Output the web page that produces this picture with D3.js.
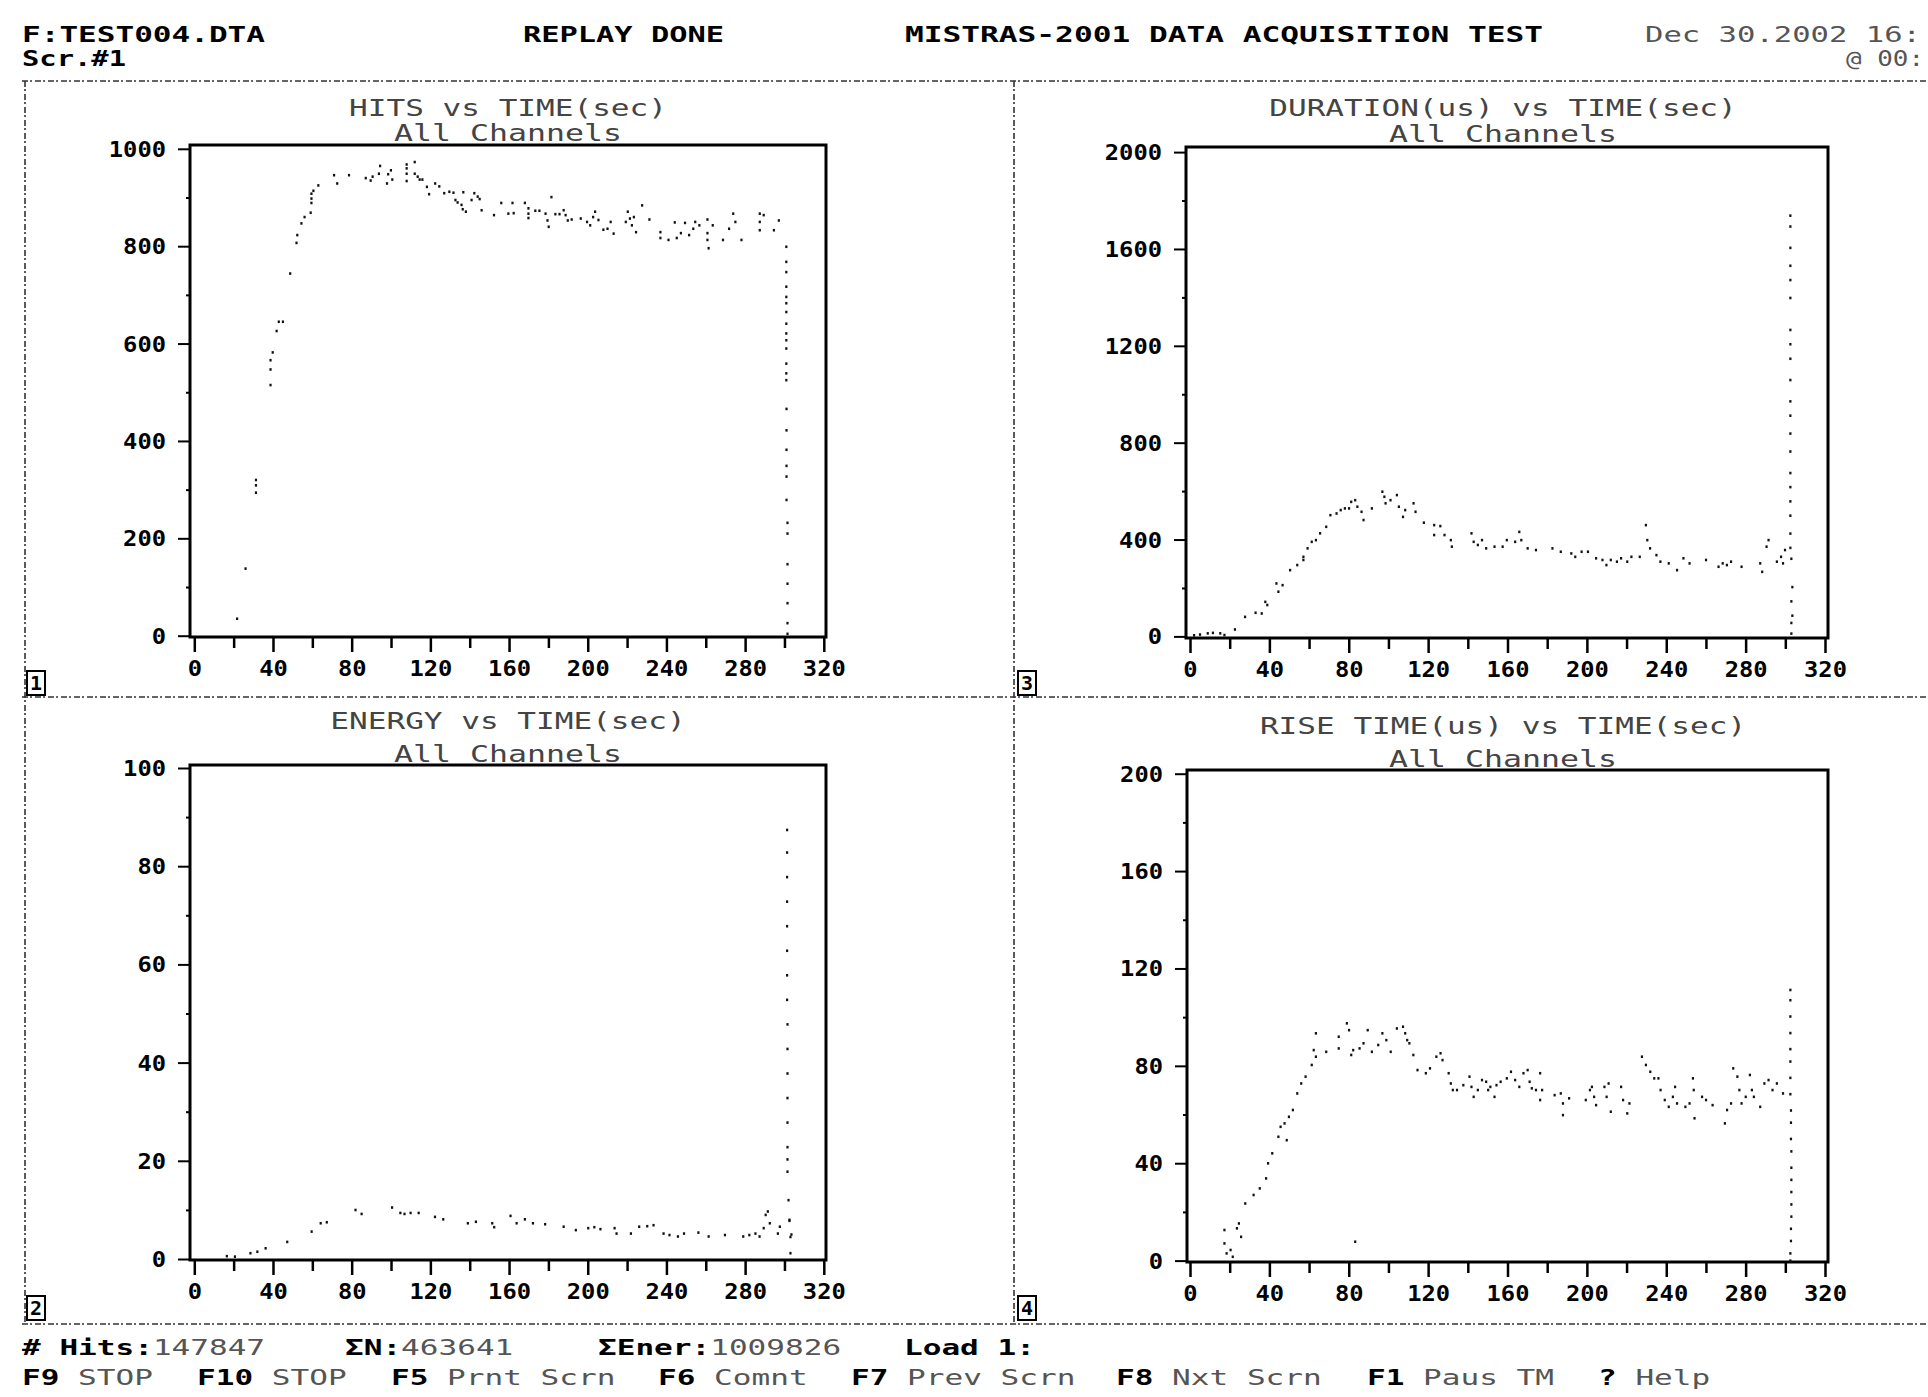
<!DOCTYPE html>
<html><head><meta charset="utf-8">
<script src="https://cdn.jsdelivr.net/npm/d3@7"></script>
<style>html,body{margin:0;padding:0;background:#fff;overflow:hidden}</style>
</head><body><svg id="c" width="1928" height="1397"></svg>
<script>
// ---------------- DATA ----------------
const xTickVals = [0,20,40,60,80,100,120,140,160,180,200,220,240,260,280,300,320];
const xLabelVals = [0,40,80,120,160,200,240,280,320];
const hitsYTicks = [0,100,200,300,400,500,600,700,800,900,1000];
const hitsYLabels = [0,200,400,600,800,1000];
const durYTicks = [0,200,400,600,800,1000,1200,1400,1600,1800,2000];
const durYLabels = [0,400,800,1200,1600,2000];
const enerYTicks = [0,10,20,30,40,50,60,70,80,90,100];
const enerYLabels = [0,20,40,60,80,100];
const riseYTicks = [0,20,40,60,80,100,120,140,160,180,200];
const riseYLabels = [0,40,80,120,160,200];

// HITS vs TIME(sec) : [time, hits]
const hitsData = [[21.7,35],[26,138],[31.3,320],[31.3,309],[31.3,294],
[38.7,515],[38.7,547],[38.7,566],[39.8,582],[41.8,626],[42.9,645],[45,645],[48.7,744],[51.9,807],[52.3,823],[54.4,847],[56,860],[59.1,869],[59.5,889],[59.5,898],[59.5,908],[60.5,914],[63,925],[71,946],[72.6,929],[78.6,946],[87.1,940],[89.6,935],[90.6,943],[93.8,949],[94.4,965],[97.9,929],[98.5,948],[99.9,956],[100.6,937],[107.9,968],[107.9,960],[107.9,949],[107.9,934],[112,973],[112,949],[113.5,943],[114.5,937],[115.9,937],[118.2,922],[119.3,907],[122.4,929],[124.5,923],[127,909],[129.6,912],[131.7,910],[132.7,895],[133.8,890],[135.8,885],[136.4,876],[138,871],[136.7,911],[140.9,895],[142.3,909],[144,902],[145,897],[146,874],[152.3,864],[156,889],[159.6,867],[161.7,889],[162.3,868],[168,889],[169.8,878],[169.8,867],[169.8,858],[173.3,873],[175.4,873],[178.5,867],[179.5,853],[180.1,840],[181.5,901],[183.5,866],[185.6,866],[187.7,874],[188.7,864],[189.8,853],[191.8,855],[196.4,857],[199.6,850],[201.2,843],[202.7,860],[203.7,871],[205.4,854],[207.9,834],[210,836],[211.6,850],[213.1,826],[219.3,850],[220.3,871],[221.4,857],[222.4,843],[223.4,860],[224.5,829],[227.6,884],[231.3,855],[236.9,829],[236.9,817],[241,813],[244.2,849],[245.2,817],[247.3,827],[249.4,848],[251.5,823],[253.6,836],[254.6,850],[256.7,843],[260.8,855],[260.8,827],[260.8,813],[261.4,796],[263.5,843],[268.7,813],[271.8,836],[273.9,867],[275,850],[278.1,813],[287.4,867],[287.4,850],[287.4,833],[289.4,864],[294.6,833],[297.1,853],
[300.9,799],[300.9,768],[300.9,747],[300.9,717],[300.9,696],[300.9,683],[300.9,665],[300.9,641],[300.9,621],[300.9,607],[300.9,590],[300.9,559],[300.9,539],[300.9,525],[301,466],[301,422],[301,382],[301,349],[301,327],[301,279],[301.5,232],[301.5,210],[301.5,147],[301.5,107],[301.5,67],[301.5,26],[301.5,4]];

// DURATION(us) vs TIME(sec)
const durData = [[2,5],[5,8],[8.9,13],[11.5,15],[15.2,13],[17.3,6],[22.6,29],[27.7,81],[33,98],[36.1,95],[37.9,143],[38.9,130],[43.5,219],[44.5,185],[46.6,212],[50.4,274],[54,295],[57.1,316],[57.1,329],[59.2,364],[61.3,391],[63.4,398],[65.5,426],[68.6,453],[70.7,501],[73.8,508],[75.9,522],[78,529],[80.1,529],[81.2,556],[83.2,563],[84.3,536],[86.4,515],[87.4,481],[91.6,529],[96.9,598],[97.9,577],[98.5,550],[101,563],[104.2,584],[105.2,536],[107.3,494],[108.4,522],[112.6,550],[113.6,515],[117.8,470],[123,460],[126.1,456],[123,419],[128.2,419],[131.4,398],[131.9,371],[141.8,426],[142.9,391],[145,378],[147.1,398],[149.2,364],[153.4,371],[157.5,371],[159.6,398],[163.8,391],[165.9,432],[166.9,398],[170.1,364],[174.3,357],[182.6,364],[186.8,350],[192.1,343],[194.1,329],[197.3,350],[200.5,350],[204.6,323],[207.8,316],[209.8,295],[212,316],[215.1,309],[217.2,323],[220.3,309],[222.4,329],[226.6,329],[229.7,460],[230.4,398],[231.8,364],[235,336],[237,309],[241.2,302],[245.4,274],[248.6,323],[251.7,302],[260,316],[266.3,288],[268.4,302],[270.5,295],[272.6,309],[277.9,288],[287.3,302],[288.3,267],[290.5,371],[291.5,398],[295.7,309],[297.8,329],[299.8,357],[298.8,302],
[302.5,1738],[302.5,1693],[302.5,1605],[302.5,1531],[302.5,1472],[302.5,1398],[302.5,1266],[302.5,1207],[302.5,1147],[302.5,1059],[302.5,971],[302.5,912],[302.5,838],[302.5,764],[302.5,675],[302.5,617],[302.5,558],[302.5,499],[302.5,425],[302.5,366],[303,321],[303.5,204],[303,145],[303.5,86],[303,56],[303,12]];

// ENERGY vs TIME(sec)
const enerData = [[16.5,0.6],[20.6,0.5],[28.5,1.2],[32,1.5],[36.2,2.2],[47.2,3.5],[59.6,5.6],[64.2,7.3],[67.3,7.5],[81.9,10],[85,9.2],[100.5,10.5],[104.7,9.4],[106.8,9.2],[109.9,9.4],[114,9.4],[122.3,8.6],[126.5,8.1],[139,7.3],[143.1,7.6],[151.4,7.3],[152.4,6.5],[160.7,8.8],[163.8,7.3],[168,8.1],[172.1,7.3],[178.3,7.1],[187.7,6.6],[193.9,5.9],[200.2,6.3],[203.3,6.5],[206.4,6.1],[213.6,6.3],[214.6,5.2],[221.9,5.2],[226.1,6.6],[230.2,6.7],[233.4,6.9],[238.5,5.2],[241.5,4.9],[245.8,4.6],[248.9,5.2],[256.2,5.4],[261.4,4.6],[269.7,4.9],[279,4.6],[282.1,4.9],[285.2,5.2],[287.3,4.6],[289.4,6.3],[290.4,9],[291.5,9.7],[292.5,7.3],[296.6,5.2],[297.6,6.6],
[301.3,87.4],[301.3,82.8],[301.3,77.8],[301.3,72.8],[301.3,67.8],[301.3,62.8],[301.3,57.8],[301.3,52.8],[301.5,47.8],[301.5,42.8],[301.5,37.8],[301.5,32.8],[301.5,27.8],[301.5,22.8],[301.5,20.3],[301.5,17.8],[302,12],[302.5,7.8],[303,4.5],[303,1.2],[302.5,8],[303.5,5]];

// RISE TIME(us) vs TIME(sec)
const riseData = [[17.3,12.6],[17.3,7.1],[18.4,3],[20.4,4.4],[21.5,1.6],[23.6,13.3],[24.6,15.3],[25.7,9.8],[27.8,23.5],[32,27],[35.1,29.7],[38.3,33.8],[39.3,40],[41.4,44.1],[44.5,50.9],[45.6,55],[47.6,56.4],[48.7,49.5],[49.8,59.1],[51.8,61.9],[54,68.7],[56,72.8],[58.2,75.6],[61.3,80.4],[62.3,86.5],[63.4,93.4],[63.4,83.8],[68.6,85.8],[74.9,92],[74.9,87.2],[79,97.5],[80.1,94.7],[81.2,84.5],[82.2,86.5],[85.4,87.2],[87.4,89.3],[89.5,94.7],[91.6,85.8],[94.8,88.6],[96.9,93.4],[98.9,90.6],[101.1,85.8],[104.2,95.4],[107.3,96.1],[108.4,93.4],[109.4,90.6],[110.5,89.3],[112.5,84.5],[114.6,78.3],[118.8,77],[120.9,79],[124.1,83.8],[126.2,85.2],[127.2,82.4],[130.3,77],[131.4,72.8],[132.4,70.1],[134.5,70.1],[137.7,72.1],[140.8,75.6],[141.8,71.4],[142.9,67.3],[145,70.1],[147.1,74.2],[149.2,73.5],[150.2,70.1],[151.3,71.4],[153.4,67.3],[154.4,72.1],[156.5,73.5],[159.6,74.9],[161.7,77.6],[163.8,74.2],[165.9,71.4],[168,77],[170.1,78.3],[171.1,73.5],[172.2,70.8],[174.3,70.1],[176.4,77],[177.4,70.1],[176.4,66],[183.7,68],[186.8,68.7],[187.9,64.6],[187.9,59.8],[191,66.7],[199.4,66],[201.5,70.1],[202.5,71.4],[203.6,67.3],[204.6,63.9],[208.8,71.4],[209.9,67.3],[210.9,72.8],[212,61.2],[217.2,71.4],[218.2,66],[220.3,60.5],[221.4,64.6],[227.7,83.8],[229.7,80.4],[231.9,77.6],[233.9,74.9],[236,74.9],[237.1,70.1],[239.2,66],[241.2,63.2],[243.3,67.3],[244.4,71.4],[245.4,64.6],[249.6,63.2],[251.7,64.6],[253.4,74.9],[253.8,70.1],[254.2,58.5],[258,67.3],[260,66],[263.3,63.9],[269.5,56.4],[270.6,61.9],[272.6,64.6],[273.7,79],[275.8,75.6],[276.8,70.1],[277.9,64.6],[280,67.3],[282.1,76.3],[283.1,70.1],[284.1,67.3],[287.3,63.2],[289.4,72.8],[291.5,74.2],[293.5,70.1],[295.7,72.8],[298.8,68.7],[83.2,7.8],
[302.5,111.2],[302.5,107],[302.5,100.3],[302.5,93.5],[302.5,86.9],[302.5,81.8],[302.5,75.1],[302.5,68.4],[302.8,61.7],[302.8,56.7],[302.8,50],[303,44.9],[303,38.2],[303,33.2],[303,28.2],[303,23.1],[303,18.1],[302.8,13.1],[302.8,8.1],[302.5,3],[302.5,0]];

// ---------------- DRAWING ----------------
const svg = d3.select('#c');
svg.append('rect').attr('width',1928).attr('height',1397).attr('fill','#fff');
const MONO = "'DejaVu Sans Mono', 'Liberation Mono', monospace";

function txt(g, x, y, s, o = {}) {
  const t = g.append('text').attr('x', x).attr('y', y).text(s)
    .attr('font-family', MONO)
    .attr('font-size', o.size || 22)
    .attr('font-weight', o.weight || 'bold')
    .attr('fill', o.fill || '#000')
    .attr('dominant-baseline', 'central')
    .attr('text-anchor', o.anchor || 'start');
  if (o.width) t.attr('textLength', o.width).attr('lengthAdjust', 'spacingAndGlyphs');
  return t;
}
const CW = 18.7;

// header
const hdr = svg.append('g');
txt(hdr, 22, 34, 'F:TEST004.DTA', {width: 243});
txt(hdr, 523, 34, 'REPLAY DONE', {width: 201});
txt(hdr, 905, 34, 'MISTRAS-2001 DATA ACQUISITION TEST', {width: 638});
txt(hdr, 1645, 34, 'Dec 30.2002 16:', {width: 276, weight: 'normal', fill: '#555'});
txt(hdr, 22, 58, 'Scr.#1', {width: 104});
txt(hdr, 1924, 58, '@ 00:', {width: 78, weight: 'normal', fill: '#555', anchor: 'end'});

// separators (dotted screen borders)
const sep = svg.append('g').attr('stroke', '#333').attr('stroke-width', 1.6)
  .attr('stroke-dasharray', '6 2 2 3').attr('fill', 'none');
[[22,81,1928,81],[25,81,25,1324],[1014,81,1014,1324],[22,697,1928,697],[22,1324,1928,1324]]
  .forEach(l => sep.append('line').attr('x1',l[0]).attr('y1',l[1]).attr('x2',l[2]).attr('y2',l[3]));

const panels = [
 {data: hitsData, yTicks: hitsYTicks, yLabels: hitsYLabels, ymax: 1000, x0: 194.3, x1: 823.8, y0: 635.7, y1: 148.8,
  fl: 190, fr: 826, ft: 145, fb: 637, title: 'HITS vs TIME(sec)', cx: 508, tOff: 37, sOff: 12, num: '1', box: [27, 671]},
 {data: durData, yTicks: durYTicks, yLabels: durYLabels, ymax: 2000, x0: 1190, x1: 1825, y0: 636.4, y1: 152.1,
  fl: 1186, fr: 1828, ft: 147, fb: 638, title: 'DURATION(us) vs TIME(sec)', cx: 1503, tOff: 39, sOff: 13, num: '3', box: [1018, 671]},
 {data: enerData, yTicks: enerYTicks, yLabels: enerYLabels, ymax: 100, x0: 194.3, x1: 823.8, y0: 1259, y1: 768,
  fl: 190, fr: 826, ft: 765, fb: 1260, title: 'ENERGY vs TIME(sec)', cx: 508, tOff: 44, sOff: 11, num: '2', box: [27, 1296]},
 {data: riseData, yTicks: riseYTicks, yLabels: riseYLabels, ymax: 200, x0: 1190, x1: 1825, y0: 1260.6, y1: 773.7,
  fl: 1187, fr: 1828, ft: 770, fb: 1262, title: 'RISE TIME(us) vs TIME(sec)', cx: 1503, tOff: 44, sOff: 11, num: '4', box: [1018, 1296]}
];

panels.forEach(p => {
  const x = d3.scaleLinear().domain([0, 320]).range([p.x0, p.x1]);
  const y = d3.scaleLinear().domain([0, p.ymax]).range([p.y0, p.y1]);
  const g = svg.append('g');

  // titles
  txt(g, p.cx, p.ft - p.tOff, p.title, {width: p.title.length * 18.7, anchor: 'middle', weight: 'normal', fill: '#444', size: 23});
  txt(g, p.cx, p.ft - p.sOff, 'All Channels', {width: 12 * 19, anchor: 'middle', weight: 'normal', fill: '#444', size: 23});

  // frame
  g.append('rect').attr('x', p.fl).attr('y', p.ft).attr('width', p.fr - p.fl).attr('height', p.fb - p.ft)
    .attr('fill', 'none').attr('stroke', '#000').attr('stroke-width', 3);

  // x axis
  const xa = g.append('g').attr('transform', `translate(0,${p.fb})`)
    .call(d3.axisBottom(x).tickValues(xTickVals).tickSize(12)
      .tickFormat(d => xLabelVals.includes(d) ? String(d) : ''));
  xa.select('.domain').remove();
  xa.selectAll('.tick line').attr('stroke', '#000').attr('stroke-width', 2.5)
    .attr('y2', d => xLabelVals.includes(d) ? 15 : 11);
  xa.selectAll('.tick text').attr('y', 31).attr('dy', null).attr('dominant-baseline', 'central')
    .attr('font-family', MONO).attr('font-weight', 'bold').attr('font-size', 22).attr('fill', '#000')
    .each(function(d) { const s = String(d); if (xLabelVals.includes(d)) d3.select(this).attr('textLength', s.length * 14.3).attr('lengthAdjust', 'spacingAndGlyphs'); });

  // y axis
  const ya = g.append('g').attr('transform', `translate(${p.fl},0)`)
    .call(d3.axisLeft(y).tickValues(p.yTicks).tickSize(12)
      .tickFormat(d => p.yLabels.includes(d) ? String(d) : ''));
  ya.select('.domain').remove();
  ya.selectAll('.tick line').attr('stroke', '#000').attr('stroke-width', 2)
    .attr('x2', d => p.yLabels.includes(d) ? -12 : -4);
  ya.selectAll('.tick text').attr('x', -24).attr('dy', null).attr('dominant-baseline', 'central')
    .attr('font-family', MONO).attr('font-weight', 'bold').attr('font-size', 22).attr('fill', '#000')
    .each(function(d) { const s = String(d); if (p.yLabels.includes(d)) d3.select(this).attr('textLength', s.length * 14.3).attr('lengthAdjust', 'spacingAndGlyphs'); });

  // data points
  g.append('g').selectAll('rect').data(p.data).join('rect')
    .attr('x', d => x(d[0]) - 1).attr('y', d => y(d[1]) - 1.2)
    .attr('width', 2.2).attr('height', 2.6).attr('fill', '#111');

  // panel number box
  g.append('rect').attr('x', p.box[0]).attr('y', p.box[1]).attr('width', 18).attr('height', 24)
    .attr('fill', '#fff').attr('stroke', '#000').attr('stroke-width', 2);
  txt(g, p.box[0] + 9, p.box[1] + 12, p.num, {anchor: 'middle', size: 20});
});

// footer
const ft = svg.append('g');
function seg(x, y, parts) {
  let cx = x;
  parts.forEach(([s, bold]) => {
    const lead = s.length - s.trimStart().length;
    const body = s.trim();
    if (body.length) txt(ft, cx + lead * CW, y, body, {width: body.length * CW, weight: bold ? 'bold' : 'normal', fill: bold ? '#000' : '#555'});
    cx += s.length * CW;
  });
}
seg(22, 1347, [['# Hits:', 1], ['147847', 0]]);
seg(345, 1347, [['ΣN:', 1], ['463641', 0]]);
seg(598, 1347, [['ΣEner:', 1], ['1009826', 0]]);
seg(904, 1347, [['Load 1:', 1]]);
seg(22, 1377, [['F9', 1], [' STOP', 0]]);
seg(197, 1377, [['F10', 1], [' STOP', 0]]);
seg(391, 1377, [['F5', 1], [' Prnt Scrn', 0]]);
seg(658, 1377, [['F6', 1], [' Comnt', 0]]);
seg(851, 1377, [['F7', 1], [' Prev Scrn', 0]]);
seg(1116, 1377, [['F8', 1], [' Nxt Scrn', 0]]);
seg(1367, 1377, [['F1', 1], [' Paus TM', 0]]);
seg(1598, 1377, [['?', 1], [' Help', 0]]);
</script></body></html>
